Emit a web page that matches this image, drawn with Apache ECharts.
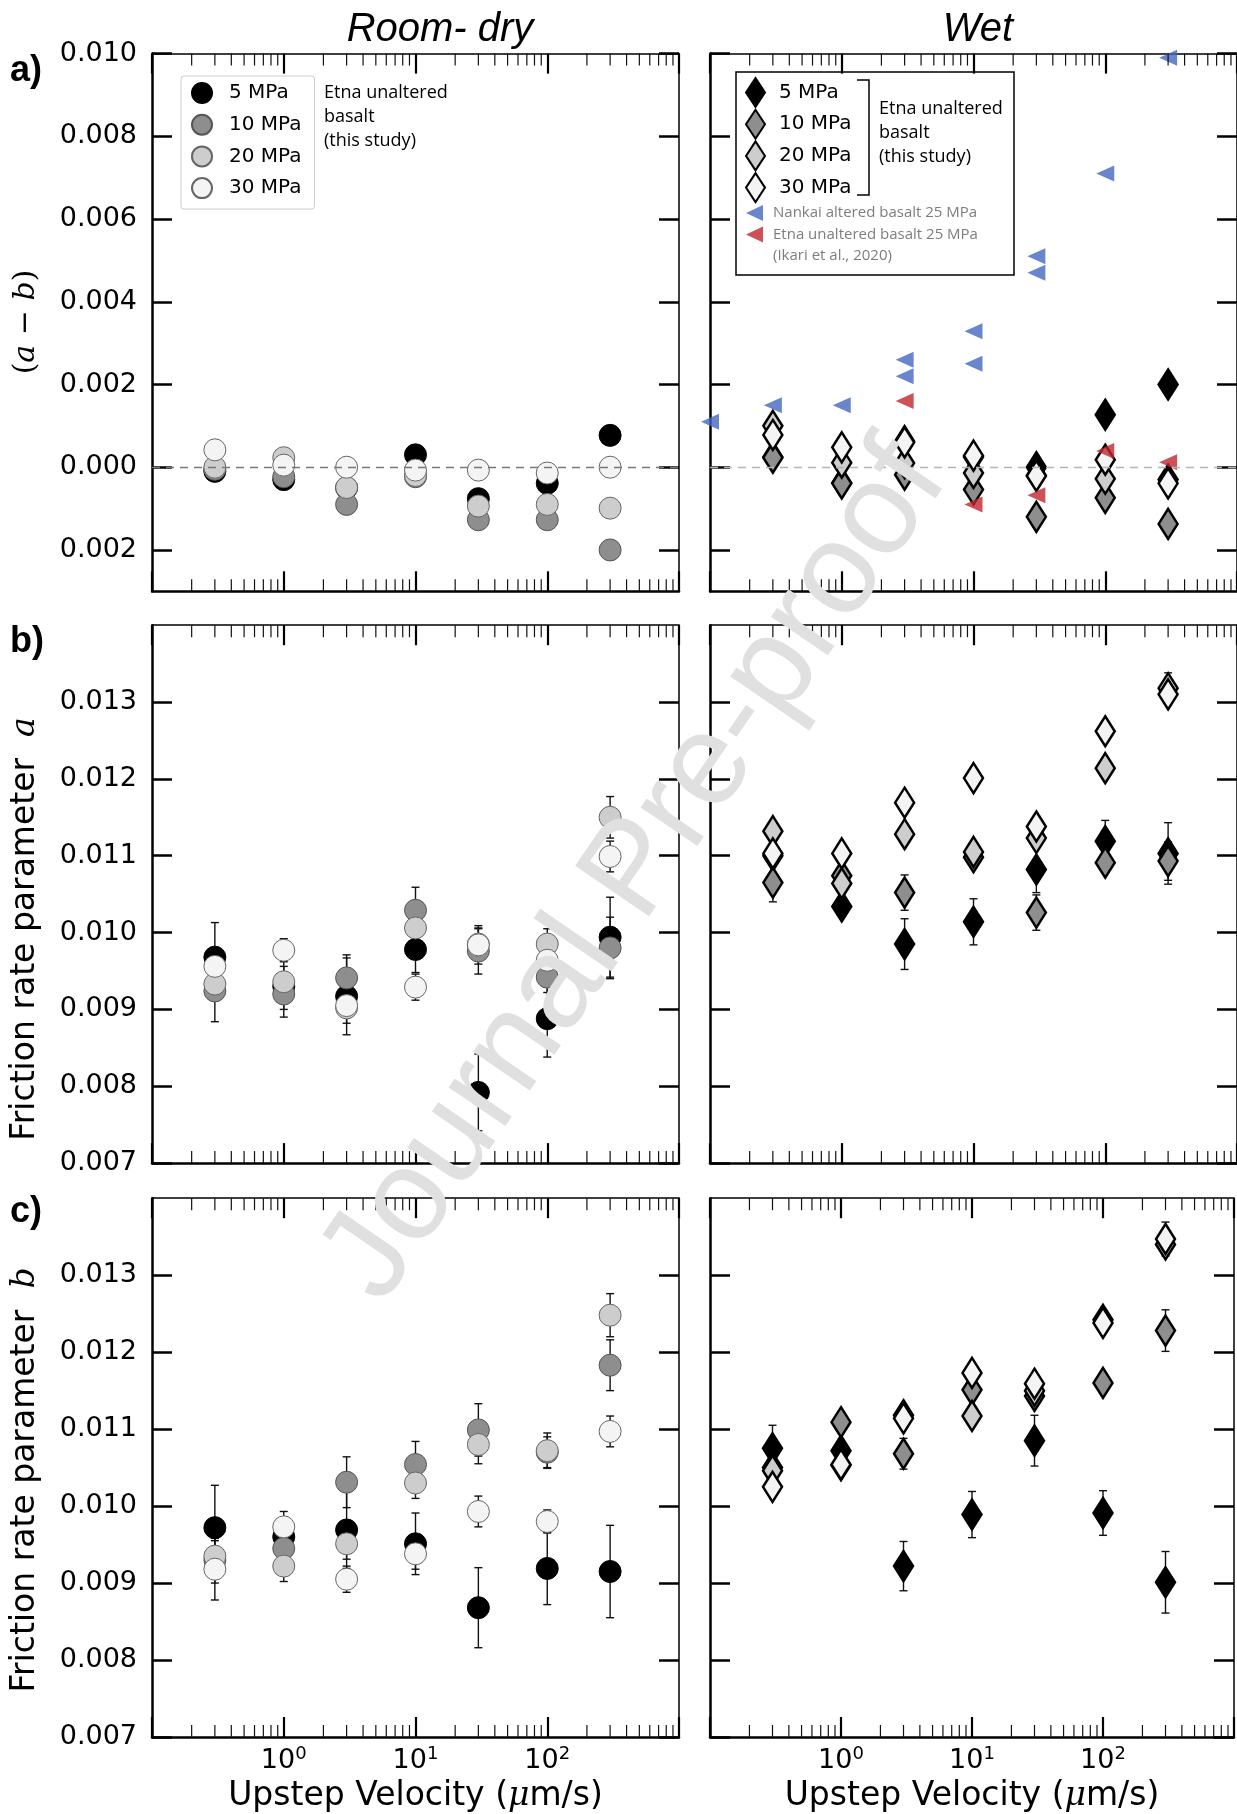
<!DOCTYPE html>
<html>
<head>
<meta charset="utf-8">
<script src="https://cdn.jsdelivr.net/npm/echarts@6/dist/echarts.min.js"></script>
<style>
  html, body { margin: 0; padding: 0; background: #fff; }
  #chart { width: 1237px; height: 1814px; }
</style>
</head>
<body>
<div id="chart"></div>
<script>
// Upstep velocities (µm/s) shared by every panel
const velocities = [0.3, 1, 3, 10, 30, 100, 300];
const pressureNames = ['5 MPa', '10 MPa', '20 MPa', '30 MPa'];

// (a - b), room-dry
const dryAB5  = [-0.0001, -0.0003, -0.0005, 0.0003, -0.00076, -0.00039, 0.00077];
const dryAB10 = [-0.00005, -0.00023, -0.0009, -0.00023, -0.00127, -0.00127, -0.002];
const dryAB20 = [0.0, 0.00023, -0.00049, -0.0002, -0.00094, -0.0009, -0.00099];
const dryAB30 = [0.00042, 0.00005, 0.0, -0.00007, -0.00007, -0.00014, 0.0];
// (a - b), wet
const wetAB5  = [0.00025, -0.00038, 0.00063, 0.00025, 0.0, 0.00127, 0.002];
const wetAB10 = [0.00023, -0.00039, -0.00018, -0.00054, -0.0012, -0.00074, -0.00137];
const wetAB20 = [0.0010, 0.00011, 0.0001, -0.00014, -0.0002, -0.00028, -0.0003];
const wetAB30 = [0.00078, 0.00048, 0.0006, 0.00028, -0.00021, 0.00018, -0.00039];

// Ikari et al. (2020), 25 MPa, wet
const nankaiVel = [0.1, 0.3, 1, 3, 3, 10, 10, 30, 30, 100, 300];
const nankaiAB  = [0.0011, 0.0015, 0.0015, 0.0026, 0.0022, 0.00329, 0.0025, 0.0051, 0.0047, 0.0071, 0.0099];
const etnaIkariVel = [3, 10, 30, 100, 300];
const etnaIkariAB  = [0.0016, -0.0009, -0.00068, 0.00039, 0.00012];

// friction rate parameter a
const dryA5  = [0.00968, 0.0093, 0.00917, 0.00978, 0.00792, 0.00888, 0.00994];
const dryA10 = [0.00924, 0.0092, 0.00941, 0.01029, 0.00976, 0.00942, 0.0098];
const dryA20 = [0.00933, 0.00936, 0.00902, 0.01006, 0.00985, 0.00985, 0.0115];
const dryA30 = [0.00956, 0.00977, 0.00905, 0.00929, 0.00984, 0.00964, 0.01099];
const wetA5  = [0.0110, 0.01034, 0.00985, 0.01014, 0.01082, 0.01119, 0.01103];
const wetA10 = [0.01065, 0.01074, 0.01052, 0.01098, 0.01026, 0.01091, 0.01093];
const wetA20 = [0.01132, 0.01064, 0.01128, 0.01105, 0.01123, 0.01214, 0.01318];
const wetA30 = [0.01103, 0.01103, 0.01169, 0.01201, 0.01138, 0.01262, 0.0131];
// one-sided error sizes for a (0 = no bar drawn)
const errDryA5  = [0.00045, 0.0004, 0.0005, 0.0003, 0.0005, 0.0005, 0.00052];
const errDryA10 = [0.0004, 0.0002, 0.0003, 0.0003, 0.0003, 0.0002, 0.0004];
const errDryA20 = [0.0002, 0.0002, 0.0002, 0.0002, 0.0002, 0.0002, 0.00027];
const errDryA30 = [0.0002, 0.00015, 0.00015, 0.00017, 0.00025, 0.0002, 0.0002];
const errWetA5  = [0, 0, 0.00033, 0.0003, 0.0003, 0.00027, 0.0004];
const errWetA10 = [0.00025, 0, 0.00023, 0, 0.00023, 0, 0.00025];
const errWetA20 = [0, 0, 0, 0, 0, 0, 0.0002];
const errWetA30 = [0, 0, 0, 0, 0, 0, 0];

// friction rate parameter b
const dryB5  = [0.00972, 0.0096, 0.00969, 0.00951, 0.00868, 0.00919, 0.00915];
const dryB10 = [0.0093, 0.00945, 0.01031, 0.01054, 0.01099, 0.0107, 0.01183];
const dryB20 = [0.00935, 0.00922, 0.00951, 0.0103, 0.0108, 0.01072, 0.01248];
const dryB30 = [0.00918, 0.00973, 0.00905, 0.00938, 0.00993, 0.0098, 0.01097];
const wetB5  = [0.01075, 0.01072, 0.00922, 0.00989, 0.01085, 0.00991, 0.00901];
const wetB10 = [0.0105, 0.01109, 0.01068, 0.01151, 0.01143, 0.0116, 0.01228];
const wetB20 = [0.01046, 0.01053, 0.01118, 0.01117, 0.0115, 0.01242, 0.0134];
const wetB30 = [0.01025, 0.01054, 0.01114, 0.01173, 0.01159, 0.01238, 0.01347];
const errDryB5  = [0.00055, 0.0002, 0.0005, 0.0004, 0.00052, 0.00047, 0.0006];
const errDryB10 = [0.0003, 0.0002, 0.00033, 0.0003, 0.00034, 0.0002, 0.00033];
const errDryB20 = [0.0002, 0.0002, 0.0002, 0.0002, 0.00025, 0.00023, 0.00028];
const errDryB30 = [0.0004, 0.0002, 0.00017, 0.0002, 0.0002, 0.00015, 0.0002];
const errWetB5  = [0.0003, 0, 0.00032, 0.0003, 0.00033, 0.00029, 0.0004];
const errWetB10 = [0, 0, 0.0002, 0, 0, 0, 0.00027];
const errWetB20 = [0, 0, 0, 0, 0, 0, 0];
const errWetB30 = [0, 0, 0, 0, 0, 0, 0.00022];

// y tick values / labels
const abTicks = [-0.002, 0, 0.002, 0.004, 0.006, 0.008, 0.010];
const abTickLabels = ['0.002', '0.000', '0.002', '0.004', '0.006', '0.008', '0.010'];
const paramTicks = [0.007, 0.008, 0.009, 0.010, 0.011, 0.012, 0.013];
const paramTickLabels = ['0.007', '0.008', '0.009', '0.010', '0.011', '0.012', '0.013'];
// log-axis minor tick multipliers and decades
const minorMultipliers = [2, 3, 4, 5, 6, 7, 8, 9];
const decades = [0.1, 1, 10, 100];

const fills = ['#000000', '#8e8e8e', '#cdcdcd', '#f4f4f4'];
const circleBorders = ['#000000', '#555555', '#666666', '#666666'];
const SANS = 'DejaVu Sans';
const SERIF = 'DejaVu Serif';

const rows = [
  { range: [-0.003, 0.010], ticks: abTicks, labels: abTickLabels,
    dry: [dryAB5, dryAB10, dryAB20, dryAB30], wet: [wetAB5, wetAB10, wetAB20, wetAB30],
    dryErr: null, wetErr: null },
  { range: [0.007, 0.014], ticks: paramTicks, labels: paramTickLabels,
    dry: [dryA5, dryA10, dryA20, dryA30], wet: [wetA5, wetA10, wetA20, wetA30],
    dryErr: [errDryA5, errDryA10, errDryA20, errDryA30], wetErr: [errWetA5, errWetA10, errWetA20, errWetA30] },
  { range: [0.007, 0.014], ticks: paramTicks, labels: paramTickLabels,
    dry: [dryB5, dryB10, dryB20, dryB30], wet: [wetB5, wetB10, wetB20, wetB30],
    dryErr: [errDryB5, errDryB10, errDryB20, errDryB30], wetErr: [errWetB5, errWetB10, errWetB20, errWetB30] }
];

const GRID_LEFT = [152, 710];
const GRID_W = 527;
const ROW_TOP = [53.6, 625.2, 1198.2];
const ROW_H = [537.7, 537.9, 539];

const minorTicks = [];
decades.forEach(d => minorMultipliers.forEach(m => minorTicks.push(+(m * d).toPrecision(3))));

function renderMinorTick(params, api) {
  const cs = params.coordSys;
  const x = api.coord([api.value(0), api.value(1)])[0];
  const yb = cs.y + cs.height, yt = cs.y;
  const st = { stroke: '#111', lineWidth: 1.2 };
  return { type: 'group', children: [
    { type: 'line', shape: { x1: x, y1: yb, x2: x, y2: yb - 12 }, style: st },
    { type: 'line', shape: { x1: x, y1: yt, x2: x, y2: yt + 12 }, style: st }
  ]};
}

function renderErrorBar(params, api) {
  const x = api.value(0);
  const p1 = api.coord([x, api.value(2)]);
  const p2 = api.coord([x, api.value(1)]);
  const cap = 4;
  const st = { stroke: '#111', lineWidth: 1.4 };
  return { type: 'group', children: [
    { type: 'line', shape: { x1: p1[0], y1: p1[1], x2: p2[0], y2: p2[1] }, style: st },
    { type: 'line', shape: { x1: p1[0] - cap, y1: p1[1], x2: p1[0] + cap, y2: p1[1] }, style: st },
    { type: 'line', shape: { x1: p2[0] - cap, y1: p2[1], x2: p2[0] + cap, y2: p2[1] }, style: st }
  ]};
}

function tickFormatter(ticks, labels) {
  return v => {
    let best = 0;
    ticks.forEach((t, i) => { if (Math.abs(t - v) < Math.abs(ticks[best] - v)) best = i; });
    return labels[best];
  };
}

const grid = [], xAxis = [], yAxis = [], series = [];

rows.forEach((row, r) => {
  [0, 1].forEach(c => {
    const g = r * 2 + c;
    const bottomRow = r === 2;
    grid.push({ left: GRID_LEFT[c], top: ROW_TOP[r], width: GRID_W, height: ROW_H[r] });

    xAxis.push({
      type: 'log', logBase: 10, min: 0.1, max: 1000, gridIndex: g, position: 'bottom',
      axisLine: { show: true, onZero: false, lineStyle: { color: '#000', width: 2.5 } },
      axisTick: { show: true, inside: true, length: 20, lineStyle: { color: '#000', width: 2.2 } },
      axisLabel: {
        show: bottomRow, margin: 8, color: '#000', fontFamily: SANS, fontSize: 27,
        formatter: v => {
          const e = Math.round(Math.log10(v));
          return (e >= 0 && e <= 2) ? '10{s|' + e + '}' : '';
        },
        rich: { s: { fontFamily: SANS, fontSize: 18, padding: [0, 0, 14, 0] } }
      },
      splitLine: { show: false },
      name: bottomRow ? 'Upstep Velocity ({mu|μ}m/s)' : '',
      nameLocation: 'middle', nameGap: 43,
      nameTextStyle: { color: '#000', fontFamily: SANS, fontSize: 33,
        rich: { mu: { fontFamily: SERIF, fontStyle: 'italic', fontSize: 33 } } }
    });
    xAxis.push({
      type: 'log', logBase: 10, min: 0.1, max: 1000, gridIndex: g, position: 'top',
      axisLine: { show: true, onZero: false, lineStyle: { color: '#000', width: 1.5 } },
      axisTick: { show: true, inside: true, length: 20, lineStyle: { color: '#000', width: 2.2 } },
      axisLabel: { show: false }, splitLine: { show: false }
    });
    yAxis.push({
      type: 'value', gridIndex: g, position: 'left', min: row.range[0], max: row.range[1],
      axisLine: { show: true, onZero: false, lineStyle: { color: '#000', width: 2.5 } },
      axisTick: { show: true, inside: true, length: 20, customValues: row.ticks,
        lineStyle: { color: '#000', width: 2.5 } },
      axisLabel: { show: c === 0, customValues: row.ticks, margin: 15, color: '#000',
        fontFamily: SANS, fontSize: 27, formatter: tickFormatter(row.ticks, row.labels) },
      splitLine: { show: false }
    });
    yAxis.push({
      type: 'value', gridIndex: g, position: 'right', min: row.range[0], max: row.range[1],
      axisLine: { show: true, onZero: false, lineStyle: { color: '#000', width: 1.5 } },
      axisTick: { show: true, inside: true, length: 20, customValues: row.ticks,
        lineStyle: { color: '#000', width: 2.5 } },
      axisLabel: { show: false }, splitLine: { show: false }
    });

    const xi = 2 * g, yi = 2 * g;
    const vals = c === 0 ? row.dry : row.wet;
    const errs = c === 0 ? row.dryErr : row.wetErr;

    if (errs) {
      const errData = [];
      vals.forEach((arr, p) => arr.forEach((v, i) => {
        if (errs[p][i]) errData.push([velocities[i], v - errs[p][i], v + errs[p][i]]);
      }));
      series.push({
        type: 'custom', name: 'error bars', xAxisIndex: xi, yAxisIndex: yi, z: 1, silent: true,
        renderItem: renderErrorBar, encode: { x: 0, y: [1, 2] }, data: errData
      });
    }

    vals.forEach((arr, p) => {
      const s = {
        type: 'scatter', name: c === 0 ? pressureNames[p] : pressureNames[p] + ' (wet)',
        xAxisIndex: xi, yAxisIndex: yi, clip: false, z: 2,
        data: velocities.map((v, i) => [v, arr[i]])
      };
      if (c === 0) {
        s.symbol = 'circle'; s.symbolSize = 22;
        s.itemStyle = { color: fills[p], borderColor: circleBorders[p], borderWidth: 1, opacity: 1 };
      } else {
        s.symbol = 'diamond'; s.symbolSize = [19, 30];
        s.itemStyle = { color: fills[p], borderColor: '#000', borderWidth: 2.6, opacity: 1 };
      }
      if (r === 0 && p === 0) {
        s.markLine = {
          silent: true, symbol: 'none', label: { show: false },
          lineStyle: { color: c === 0 ? '#777' : '#b5b5b5', type: [8, 6], width: 1.3 },
          data: [{ yAxis: 0 }]
        };
      }
      series.push(s);
    });

    if (r === 0 && c === 1) {
      series.push({
        type: 'scatter', name: 'Nankai altered basalt 25 MPa', xAxisIndex: xi, yAxisIndex: yi,
        clip: false, z: 3, symbol: 'triangle', symbolRotate: 90, symbolSize: [16, 18],
        itemStyle: { color: '#4468bf' },
        data: nankaiVel.map((v, i) => [v, nankaiAB[i]])
      });
      series.push({
        type: 'scatter', name: 'Etna unaltered basalt 25 MPa', xAxisIndex: xi, yAxisIndex: yi,
        clip: false, z: 3, symbol: 'triangle', symbolRotate: 90, symbolSize: [16, 18],
        itemStyle: { color: '#c0262c' },
        data: etnaIkariVel.map((v, i) => [v, etnaIkariAB[i]])
      });
    }

    series.push({
      type: 'custom', name: 'minor ticks', xAxisIndex: xi, yAxisIndex: yi, z: 5, silent: true,
      renderItem: renderMinorTick, encode: { x: 0, y: 1 },
      data: minorTicks.map(v => [v, row.range[0]])
    });
  });
});

function rotatedLabel(x, y, text, rich) {
  return { type: 'text', x: x, y: y, rotation: Math.PI / 2, z: 10,
    style: { text: text, rich: rich, fill: '#000', align: 'center', verticalAlign: 'middle',
      textAlign: 'center', textVerticalAlign: 'middle' } };
}
function plainText(x, y, text, st) {
  return { type: 'text', x: x, y: y, z: 10,
    style: Object.assign({ text: text, fill: '#000', align: 'left', verticalAlign: 'middle',
      textAlign: 'left', textVerticalAlign: 'middle' }, st) };
}

const sideFont = { fontFamily: 'Open Sans', fontSize: 18 };
const paramRich = {
  n: { fontFamily: SANS, fontSize: 33 },
  m: { fontFamily: SERIF, fontStyle: 'italic', fontSize: 33 }
};
const leftTriangle = 'path://M0,8 L16,0 L16,16 Z';

const graphic = [
  // column titles
  plainText(440, 30, 'Room- dry', { fontFamily: 'Liberation Sans', fontStyle: 'italic', fontSize: 40, align: 'center', textAlign: 'center' }),
  plainText(978, 30, 'Wet', { fontFamily: 'Liberation Sans', fontStyle: 'italic', fontSize: 40, align: 'center', textAlign: 'center' }),
  // panel letters
  plainText(10, 71, 'a)', { fontFamily: 'Liberation Sans', fontWeight: 'bold', fontSize: 36 }),
  plainText(10, 642, 'b)', { fontFamily: 'Liberation Sans', fontWeight: 'bold', fontSize: 36 }),
  plainText(10, 1212, 'c)', { fontFamily: 'Liberation Sans', fontWeight: 'bold', fontSize: 36 }),
  // y titles
  rotatedLabel(26, 322, '{p|(}{i|a}{p| − }{i|b}{p|)}', {
    p: { fontFamily: SERIF, fontSize: 30 }, i: { fontFamily: SERIF, fontStyle: 'italic', fontSize: 30 } }),
  rotatedLabel(25, 929, '{n|Friction rate parameter  }{m|a}', paramRich),
  rotatedLabel(25, 1480, '{n|Friction rate parameter  }{m|b}', paramRich),
  // legend notes, room-dry
  plainText(324, 93, 'Etna unaltered', sideFont),
  plainText(324, 117, 'basalt', sideFont),
  plainText(324, 141, '(this study)', sideFont),
  // legend frame, wet
  { type: 'rect', z: 0, shape: { x: 736, y: 72, width: 278, height: 203 },
    style: { fill: '#fff', stroke: '#000', lineWidth: 1.5 } },
  { type: 'polyline', z: 10, shape: { points: [[857, 80], [869, 80], [869, 195], [857, 195]] },
    style: { fill: null, stroke: '#000', lineWidth: 1.5 } },
  plainText(879, 109, 'Etna unaltered', sideFont),
  plainText(879, 133, 'basalt', sideFont),
  plainText(879, 157, '(this study)', sideFont),
  plainText(773, 256, '(Ikari et al., 2020)', { fontFamily: 'Open Sans', fontSize: 15, fill: '#7d7d7d' }),
  // watermark
  { type: 'text', x: 636, y: 872, rotation: 0.97, z: 100, silent: true,
    style: { text: 'Journal Pre-proof', fill: '#e0e0e0', fontFamily: 'Liberation Sans', fontSize: 130,
      align: 'center', verticalAlign: 'middle', textAlign: 'center', textVerticalAlign: 'middle' } }
];

const legend = [
  {
    data: pressureNames, left: 181, top: 76, orient: 'vertical', selectedMode: false,
    padding: [6, 13, 10, 10], itemWidth: 20, itemHeight: 20, itemGap: 9.7,
    backgroundColor: '#fff', borderColor: '#cccccc', borderWidth: 1, borderRadius: 3,
    textStyle: { color: '#000', fontFamily: SANS, fontSize: 20, padding: [0, 0, 0, 12] }
  },
  {
    data: pressureNames.map(n => n + ' (wet)'), left: 745, top: 77, orient: 'vertical', selectedMode: false,
    padding: 0, itemWidth: 19, itemHeight: 29, itemGap: 0.7, symbolKeepAspect: false,
    formatter: n => n.replace(' (wet)', ''),
    textStyle: { color: '#000', fontFamily: SANS, fontSize: 20, padding: [0, 0, 0, 9] }
  },
  {
    data: [
      { name: 'Nankai altered basalt 25 MPa', icon: leftTriangle },
      { name: 'Etna unaltered basalt 25 MPa', icon: leftTriangle }
    ],
    left: 746, top: 205, orient: 'vertical', selectedMode: false, padding: 0,
    itemWidth: 17, itemHeight: 16, itemGap: 5.5, symbolKeepAspect: false,
    textStyle: { color: '#7d7d7d', fontFamily: 'Open Sans', fontSize: 15, padding: [0, 0, 0, 5] }
  }
];

const chart = echarts.init(document.getElementById('chart'), null, { renderer: 'canvas', width: 1237, height: 1814 });
chart.setOption({
  animation: false,
  backgroundColor: '#fff',
  grid, xAxis, yAxis, series, legend, graphic
});
</script>
</body>
</html>
